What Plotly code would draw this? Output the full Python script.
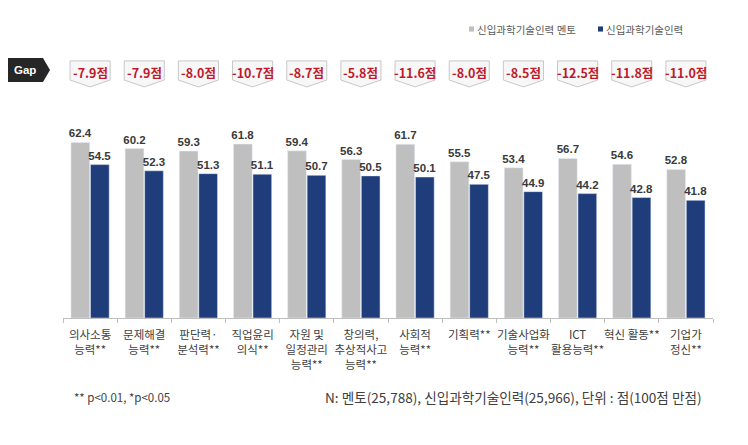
import plotly.graph_objects as go

categories = ["의사소통<br>능력**", "문제해결<br>능력**", "판단력·<br>분석력**", "직업윤리<br>의식**",
              "자원 및<br>일정관리<br>능력**", "창의력,<br>추상적사고<br>능력**", "사회적<br>능력**",
              "기획력**", "기술사업화<br>능력**", "ICT<br>활용능력**", "혁신 활동**", "기업가<br>정신**"]
mentor = [62.4, 60.2, 59.3, 61.8, 59.4, 56.3, 61.7, 55.5, 53.4, 56.7, 54.6, 52.8]
newbie = [54.5, 52.3, 51.3, 51.1, 50.7, 50.5, 50.1, 47.5, 44.9, 44.2, 42.8, 41.8]
gaps = [-7.9, -7.9, -8.0, -10.7, -8.7, -5.8, -11.6, -8.0, -8.5, -12.5, -11.8, -11.0]
series_names = ["신입과학기술인력 멘토", "신입과학기술인력"]
footnote_left = "** p<0.01, *p<0.05"
footnote_right = "N: 멘토(25,788), 신입과학기술인력(25,966), 단위 : 점(100점 만점)"

GRAY = "#BFBFBF"
NAVY = "#1F3D7B"
FONT = "Noto Sans CJK KR, Liberation Sans, Arial, sans-serif"
NUMFONT = "Liberation Sans, Arial, sans-serif"
colors = [GRAY, NAVY]

x = list(range(len(categories)))

fig = go.Figure()
for name, vals, col in zip(series_names, [mentor, newbie], colors):
    fig.add_trace(go.Bar(x=x, y=vals, name=name, marker_color=col, showlegend=False,
                         text=vals, texttemplate="<b>%{y:.1f}</b>", textposition="outside",
                         constraintext="none", cliponaxis=False,
                         textfont=dict(size=11.5, color="#3A3A3A", family=NUMFONT)))

shapes = []
annotations = []
# gap boxes (pentagon pointing down)
hw = 0.37
top, mid, tip = 1.305, 1.208, 1.173
for i, g in zip(x, gaps):
    path = (f"M {i-hw},{top} L {i+hw},{top} L {i+hw},{mid} L {i},{tip} "
            f"L {i-hw},{mid} Z")
    shapes.append(dict(type="path", xref="x", yref="paper", path=path,
                       fillcolor="#F7F7F7", line=dict(color="#C8C8C8", width=1)))
    annotations.append(dict(x=i, y=1.246, xref="x", yref="paper", showarrow=False,
                            xanchor="center", yanchor="middle",
                            text=f"<b>{g:.1f}점</b>",
                            font=dict(size=12.5, color="#C0192B", family=FONT)))

# Gap label
shapes.append(dict(type="path", xref="paper", yref="paper",
                   path="M -0.0892,1.320 L -0.0308,1.320 L -0.0200,1.259 L -0.0308,1.198 L -0.0892,1.198 Z",
                   fillcolor="#262626", line=dict(width=0)))
annotations.append(dict(x=-0.058, y=1.259, xref="paper", yref="paper", showarrow=False,
                        xanchor="center", yanchor="middle",
                        text="<b>Gap</b>", font=dict(size=11.5, color="white", family=NUMFONT)))

# manual legend
leg_sq = [(0.6246, 0.6323), (0.8231, 0.8308)]
leg_tx = [0.6323 + 0.002, 0.8308 + 0.002]
for (x0, x1), tx, name, col in zip(leg_sq, leg_tx, series_names, colors):
    shapes.append(dict(type="rect", xref="paper", yref="paper", x0=x0, x1=x1,
                       y0=1.454, y1=1.480, fillcolor=col, line=dict(width=0)))
    annotations.append(dict(x=tx, y=1.467, xref="paper", yref="paper", showarrow=False,
                            xanchor="left", yanchor="middle", text=name,
                            font=dict(size=10.5, color="#595959", family=FONT)))

# footnotes
annotations.append(dict(x=(72 - 63) / 650, y=-0.40, xref="paper", yref="paper", showarrow=False,
                        text=footnote_left, xanchor="left", yanchor="middle",
                        font=dict(size=11.5, color="#404040", family=FONT)))
annotations.append(dict(x=(704 - 63) / 650, y=-0.40, xref="paper", yref="paper", showarrow=False,
                        text=footnote_right, xanchor="right", yanchor="middle",
                        font=dict(size=13.6, color="#404040", family=FONT)))

fig.update_layout(
    width=740, height=437,
    margin=dict(l=55, r=35, t=113, b=127, autoexpand=False),
    paper_bgcolor="white", plot_bgcolor="white",
    barmode="group", bargap=0.28, bargroupgap=0.04,
    shapes=shapes, annotations=annotations,
    showlegend=False,
    font=dict(family=FONT),
)
fig.update_xaxes(range=[-0.5, 11.5], tickvals=x, ticktext=categories, tickangle=0,
                 showline=True, linecolor="#BFBFBF", linewidth=1,
                 ticks="", ticklabelstandoff=6, showgrid=False, zeroline=False,
                 tickfont=dict(size=11.5, color="#404040", family=FONT),
                 minor=dict(tickvals=[i - 0.5 for i in x] + [11.5], ticks="outside",
                            ticklen=4, tickcolor="#BFBFBF", showgrid=False))
fig.update_yaxes(range=[0, 70], visible=False, showgrid=False)

fig.write_html("out.html")
